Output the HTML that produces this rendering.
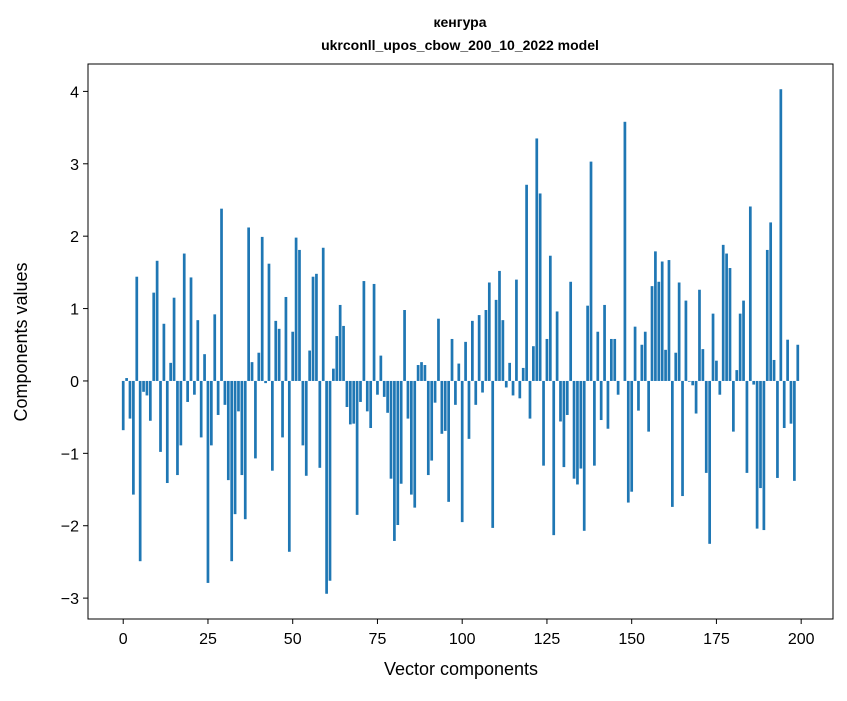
<!DOCTYPE html>
<html><head><meta charset="utf-8"><style>
body{margin:0;background:#fff;}
svg text{font-family:"Liberation Sans","DejaVu Sans",sans-serif;fill:#000;}
</style></head><body>
<svg id="chart" width="847" height="696" xmlns="http://www.w3.org/2000/svg">
<rect width="847" height="696" fill="#fff"/>
<text x="460" y="27" text-anchor="middle" font-size="14" font-weight="bold">кенгура</text>
<text x="460" y="50" text-anchor="middle" font-size="14" font-weight="bold">ukrconll_upos_cbow_200_10_2022 model</text>
<g id="bars"></g>
<g id="xaxis"></g>
<g id="yaxis"></g>
<rect x="88" y="64" width="745" height="555" fill="none" stroke="#000" stroke-width="1"/>
<text x="461" y="675" text-anchor="middle" font-size="18">Vector components</text>
<text transform="translate(27,342) rotate(-90)" text-anchor="middle" font-size="18">Components values</text>
</svg>
<script>
const values = [-0.68,0.04,-0.52,-1.57,1.44,-2.49,-0.15,-0.2,-0.55,1.22,1.66,-0.98,0.79,-1.41,0.25,1.15,-1.3,-0.89,1.76,-0.29,
1.43,-0.19,0.84,-0.78,0.37,-2.79,-0.89,0.92,-0.47,2.38,-0.33,-1.37,-2.49,-1.84,-0.42,-1.3,-1.91,2.12,0.26,-1.07,
0.39,1.99,-0.03,1.62,-1.24,0.83,0.72,-0.78,1.16,-2.36,0.68,1.98,1.81,-0.89,-1.31,0.42,1.44,1.48,-1.2,1.84,
-2.94,-2.76,0.17,0.62,1.05,0.76,-0.36,-0.6,-0.59,-1.85,-0.29,1.38,-0.42,-0.65,1.34,-0.19,0.35,-0.22,-0.44,-1.35,
-2.21,-1.99,-1.42,0.98,-0.52,-1.57,-1.75,0.22,0.26,0.22,-1.3,-1.1,-0.3,0.86,-0.73,-0.69,-1.67,0.58,-0.33,0.24,
-1.95,0.54,-0.8,0.83,-0.33,0.91,-0.16,0.98,1.36,-2.03,1.12,1.52,0.84,-0.09,0.25,-0.2,1.4,-0.24,0.18,2.71,
-0.52,0.48,3.35,2.59,-1.17,0.58,1.73,-2.13,0.96,-0.56,-1.19,-0.47,1.37,-1.35,-1.43,-1.21,-2.07,1.04,3.03,-1.17,
0.68,-0.54,1.05,-0.66,0.58,0.58,-0.19,0.0,3.58,-1.68,-1.53,0.75,-0.41,0.5,0.68,-0.7,1.31,1.79,1.37,1.65,
0.43,1.67,-1.74,0.39,1.36,-1.59,1.11,-0.01,-0.06,-0.45,1.26,0.44,-1.27,-2.25,0.93,0.28,-0.19,1.88,1.76,1.56,
-0.7,0.15,0.93,1.11,-1.27,2.41,-0.05,-2.04,-1.48,-2.06,1.81,2.19,0.29,-1.34,4.03,-0.65,0.57,-0.59,-1.38,0.5];
const xTicks = [0,25,50,75,100,125,150,175,200];
const yTicks = [-3,-2,-1,0,1,2,3,4];
const NS="http://www.w3.org/2000/svg";
const L=88,R=833,T=64,B=619;
const n=values.length;
const xmin=-0.4-0.05*(n-0.2), xmax=n-1+0.4+0.05*(n-0.2);
const vmin=Math.min(0,...values), vmax=Math.max(0,...values), span=vmax-vmin;
const ymin=vmin-0.05*span, ymax=vmax+0.05*span;
const sx=v=>L+(v-xmin)/(xmax-xmin)*(R-L);
const sy=v=>B-(v-ymin)/(ymax-ymin)*(B-T);
const gb=document.getElementById('bars');
values.forEach((v,i)=>{
  const r=document.createElementNS(NS,'rect');
  const x0=sx(i-0.4), x1=sx(i+0.4);
  r.setAttribute('x',x0);r.setAttribute('width',x1-x0);
  r.setAttribute('y',Math.min(sy(v),sy(0)));r.setAttribute('height',Math.abs(sy(v)-sy(0)));
  r.setAttribute('fill','#1f77b4');
  
  
  gb.appendChild(r);
});
const gx=document.getElementById('xaxis');
xTicks.forEach(t=>{
  const l=document.createElementNS(NS,'line');
  l.setAttribute('x1',sx(t));l.setAttribute('x2',sx(t));l.setAttribute('y1',B);l.setAttribute('y2',B+5);l.setAttribute('stroke','#000');
  
  
  gx.appendChild(l);
  const tx=document.createElementNS(NS,'text');
  tx.setAttribute('x',sx(t));tx.setAttribute('y',B+25);tx.setAttribute('text-anchor','middle');tx.setAttribute('font-size','16');
  tx.textContent=t;
  
  
  gx.appendChild(tx);
});
const gy=document.getElementById('yaxis');
yTicks.forEach(t=>{
  const l=document.createElementNS(NS,'line');
  l.setAttribute('x1',L-5);l.setAttribute('x2',L);l.setAttribute('y1',sy(t));l.setAttribute('y2',sy(t));l.setAttribute('stroke','#000');
  
  
  gy.appendChild(l);
  const tx=document.createElementNS(NS,'text');
  tx.setAttribute('x',L-9);tx.setAttribute('y',sy(t)+6);tx.setAttribute('text-anchor','end');tx.setAttribute('font-size','16');
  tx.textContent=t<0?'\u2212'+Math.abs(t):String(t);
  
  
  gy.appendChild(tx);
});
</script>
</body></html>
